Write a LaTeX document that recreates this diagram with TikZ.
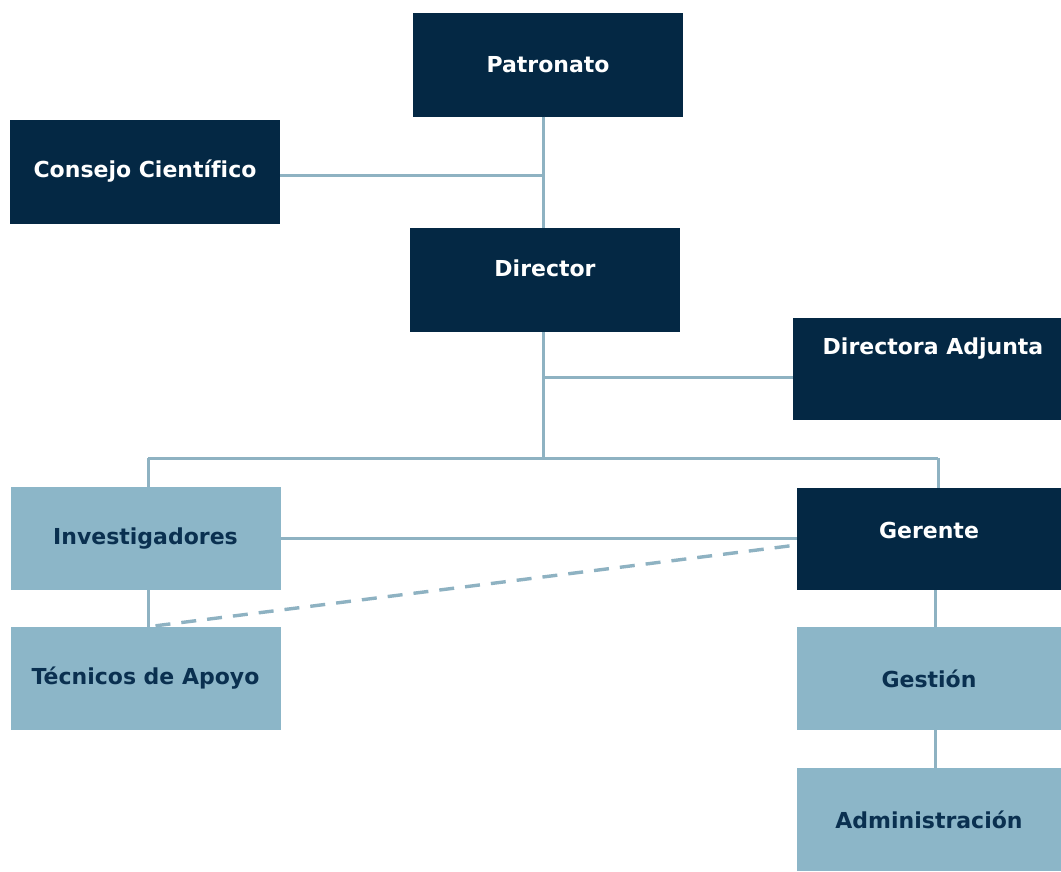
\documentclass[tikz,border=0pt]{standalone}
\usepackage{fontspec}
\setmainfont[Ligatures=NoCommon]{DejaVu Sans}
\definecolor{navy}{RGB}{4,40,68}
\definecolor{pale}{RGB}{140,182,200}
\definecolor{paletext}{RGB}{10,48,80}
\definecolor{wire}{RGB}{142,178,194}
\tikzset{
  darkbox/.style={rectangle,fill=navy,text=white,minimum width=270pt,minimum height=104pt,inner sep=0pt,font=\fontsize{22}{26}\selectfont\bfseries},
  palebox/.style={rectangle,fill=pale,text=paletext,minimum width=270pt,minimum height=103pt,inner sep=0pt,font=\fontsize{22}{26}\selectfont\bfseries},
  lifted/.style={text depth=#1},
  wire/.style={draw=wire,line width=3pt},
}
\begin{document}
\begin{tikzpicture}
  [x=1pt,y=-1pt]
  \useasboundingbox[fill=white] (0,0) rectangle (1061,871);

  % top row
  \node[darkbox] (pat) at (548,64.5) {Patronato};
  \node[darkbox] (cons) at (145,171.5) {Consejo Científico};
  \node[darkbox,lifted=24pt] (dir) at (545,280) {Director};
  \node[darkbox,minimum width=268pt,minimum height=102pt,lifted=46pt] (adj) at (927,369) {\hspace{12pt}Directora Adjunta};

  % lower left
  \node[palebox] (inv) at (145.5,538.5) {Investigadores};
  \node[palebox] (tec) at (145.5,678.5) {Técnicos de Apoyo};

  % lower right
  \node[darkbox,minimum width=264pt,minimum height=102pt,lifted=18pt] (ger) at (929,539) {Gerente};
  \node[palebox,minimum width=264pt] (ges) at (929,678.5) {Gestión};
  \node[palebox,minimum width=264pt] (adm) at (929,819.5) {Administración};

  % junctions
  \coordinate (top) at (543,175);
  \coordinate (mid) at (543,377);
  \coordinate (fork) at (543,458);
  \coordinate (lft) at (148,458);
  \coordinate (rgt) at (938,458);

  \path[wire]
     (pat.south -| top) -- (dir.north -| top)
     (cons.east |- top) -- (top)
     (dir.south -| mid) -- (fork)
     (mid) -- (adj.west |- mid)
     (lft) -- (rgt)
     (lft) -- (inv.north -| lft)
     (rgt) -- (ger.north -| rgt)
     (inv.east) -- (ger.west |- inv.east)
     (inv.south -| lft) -- (tec.north -| lft)
     (ger.south -| 935,0) -- (ges.north -| 935,0)
     (ges.south -| 935,0) -- (adm.north -| 935,0);

  \draw[wire,line width=3.4pt,dash pattern=on 15pt off 11pt] ([xshift=10pt]tec.north) ++(0,-1) coordinate (dsh) (dsh) -- ([yshift=-6pt]ger.west);

\end{tikzpicture}
\end{document}
